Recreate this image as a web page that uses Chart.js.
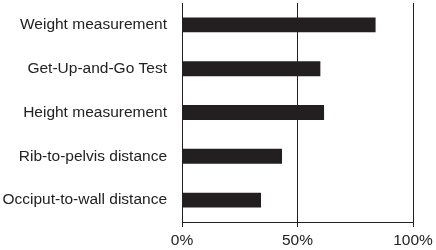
<!DOCTYPE html>
<html>
<head>
<meta charset="utf-8">
<script src="https://cdn.jsdelivr.net/npm/chart.js@4"></script>
<style>
  html, body { margin: 0; padding: 0; background: #fff; }
  #wrap { width: 436px; height: 250px; }
</style>
</head>
<body>
<div id="wrap"><canvas id="myChart" width="436" height="250"></canvas></div>
<script>
// categories and values (percent)
var categories = ['Weight measurement', 'Get-Up-and-Go Test', 'Height measurement', 'Rib-to-pelvis distance', 'Occiput-to-wall distance'];
var values = [83.8, 59.9, 61.5, 43.3, 34.2];
var tickLabels = ['0%', '50%', '100%'];

var ink = '#231f20';

var ctx = document.getElementById('myChart').getContext('2d');
var chart = new Chart(ctx, {
    type: 'bar',
    data: {
        labels: categories,
        datasets: [{
            data: values,
            backgroundColor: ink,
            borderWidth: 0,
            barPercentage: 0.68,
            categoryPercentage: 0.5
        }]
    },
    options: {
        indexAxis: 'y',
        responsive: false,
        animation: false,
        layout: { padding: { left: 0, right: 23, top: 3, bottom: 0 } },
        plugins: { legend: { display: false }, tooltip: { enabled: false } },
        scales: {
            x: {
                min: 0,
                max: 100,
                ticks: {
                    stepSize: 50,
                    color: '#222',
                    font: { family: 'Liberation Sans', size: 15.5 },
                    padding: 4,
                    callback: function (v, i) { return tickLabels[i]; }
                },
                grid: { color: ink, lineWidth: 1, tickLength: 5 },
                border: { display: true, color: ink, width: 1 },
                afterFit: function (scale) {
                    scale.height = 28;
                    scale.paddingLeft = 0;
                    scale.paddingRight = 0;
                }
            },
            y: {
                ticks: {
                    color: '#222',
                    font: { family: 'Liberation Sans', size: 15.5 },
                    padding: 7
                },
                grid: { display: false },
                border: { display: true, color: ink, width: 1 },
                afterFit: function (scale) {
                    scale.width = 182;
                    scale.paddingTop = 0;
                    scale.paddingBottom = 0;
                }
            }
        }
    }
});
</script>
</body>
</html>
